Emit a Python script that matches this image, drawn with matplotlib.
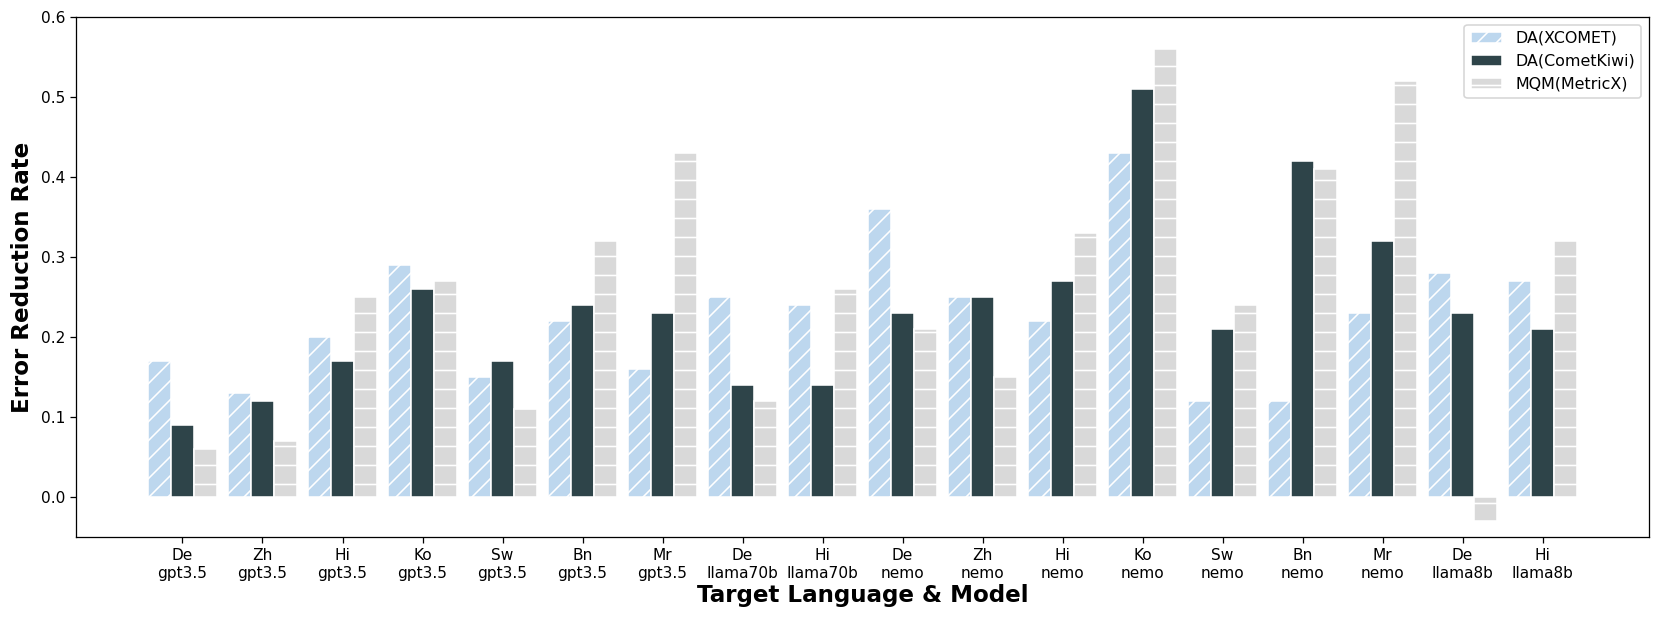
import numpy as np
import matplotlib
matplotlib.use('Agg')
import matplotlib.pyplot as plt

# --- data ---
languages = ['De', 'Zh', 'Hi', 'Ko', 'Sw', 'Bn', 'Mr', 'De', 'Hi',
             'De', 'Zh', 'Hi', 'Ko', 'Sw', 'Bn', 'Mr', 'De', 'Hi']
models = ['gpt3.5'] * 7 + ['llama70b'] * 2 + ['nemo'] * 7 + ['llama8b'] * 2

da_xcomet = [0.17, 0.13, 0.20, 0.29, 0.15, 0.22, 0.16, 0.25, 0.24,
             0.36, 0.25, 0.22, 0.43, 0.12, 0.12, 0.23, 0.28, 0.27]
da_cometkiwi = [0.09, 0.12, 0.17, 0.26, 0.17, 0.24, 0.23, 0.14, 0.14,
                0.23, 0.25, 0.27, 0.51, 0.21, 0.42, 0.32, 0.23, 0.21]
mqm_metricx = [0.06, 0.07, 0.25, 0.27, 0.11, 0.32, 0.43, 0.12, 0.26,
               0.21, 0.15, 0.33, 0.56, 0.24, 0.41, 0.52, -0.03, 0.32]

series_labels = ['DA(XCOMET)', 'DA(CometKiwi)', 'MQM(MetricX)']
COLORS = ['#BDD7EE', '#2E4449', '#D9D9D9']
HATCHES = ['//', None, '-']

DPI = 114
fig = plt.figure(figsize=(1661 / DPI, 623 / DPI), dpi=DPI)
ax = fig.add_axes([0.0458, 0.1374, 0.947, 0.8358])

x = np.arange(len(languages))
w = 0.29
for i, (vals, lab) in enumerate(zip([da_xcomet, da_cometkiwi, mqm_metricx], series_labels)):
    ax.bar(x + (i - 1) * w, vals, w, color=COLORS[i], edgecolor='white',
           linewidth=1.0, hatch=HATCHES[i], label=lab)

ax.set_xticks(x)
ax.set_xticklabels([f'{l}\n{m}' for l, m in zip(languages, models)], fontsize=9.7)
ax.tick_params(axis='y', labelsize=9.7)
ax.set_xlim(-1.33, 18.33)
ax.set_ylim(-0.05, 0.6)
ax.set_yticks(np.arange(0, 0.61, 0.1))

ax.set_ylabel('Error Reduction Rate', fontsize=14.5, fontweight='bold')
ax.set_xlabel('Target Language & Model', fontsize=14.5, fontweight='bold', labelpad=2)
ax.legend(loc='upper right', fontsize=10)

fig.savefig('out.png', dpi=DPI)
